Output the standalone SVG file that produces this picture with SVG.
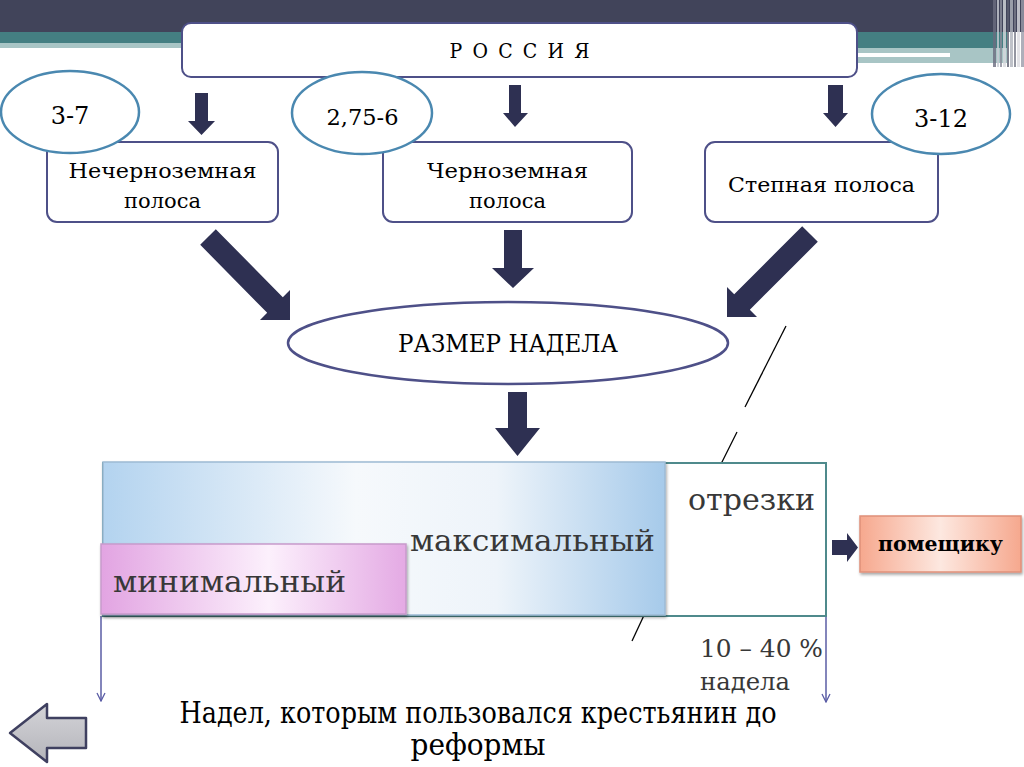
<svg xmlns="http://www.w3.org/2000/svg" width="1024" height="767" viewBox="0 0 1024 767">
<defs>
<style>
.box{fill:#fff;stroke:#4E5088;stroke-width:2}
.num{fill:#fff;stroke:#4A88B0;stroke-width:2.5}
.arr{fill:#2E3052}
.serif{font-family:"DejaVu Serif","Liberation Serif",serif}
.times{font-family:"DejaVu Serif Condensed","DejaVu Serif",serif;font-stretch:condensed}
.thin{stroke:#000;stroke-width:1.3}
.vline{stroke:#5A5CA5;stroke-width:1.5;fill:none}
.gray{fill:#383838}
</style>
<linearGradient id="gBlue" x1="0" y1="0" x2="1" y2="0">
<stop offset="0" stop-color="#B3D3EF"/>
<stop offset="0.45" stop-color="#F6F9FC"/>
<stop offset="0.7" stop-color="#EEF4FA"/>
<stop offset="1" stop-color="#A6CAEA"/>
</linearGradient>
<linearGradient id="gPink" x1="0" y1="0" x2="1" y2="0">
<stop offset="0" stop-color="#E2A4E2"/>
<stop offset="0.55" stop-color="#FCF0FC"/>
<stop offset="1" stop-color="#E4AAE4"/>
</linearGradient>
<linearGradient id="gOrange" x1="0" y1="0" x2="1" y2="0">
<stop offset="0" stop-color="#F6A88E"/>
<stop offset="0.5" stop-color="#FDE8E0"/>
<stop offset="1" stop-color="#F6A88E"/>
</linearGradient>
<linearGradient id="gGray" x1="0" y1="0" x2="0" y2="1">
<stop offset="0" stop-color="#D4D4D8"/>
<stop offset="1" stop-color="#B4B4BA"/>
</linearGradient>
<filter id="sh" x="-10%" y="-10%" width="125%" height="135%">
<feDropShadow dx="1" dy="2" stdDeviation="1.5" flood-color="#000" flood-opacity="0.35"/>
</filter>
<marker id="v" viewBox="0 0 10 10" refX="9" refY="5" markerWidth="10" markerHeight="10" markerUnits="userSpaceOnUse" orient="auto">
<path d="M1,1 L9,5 L1,9" fill="none" stroke="#5A5CA5" stroke-width="1.3"/>
</marker>
</defs>

<rect x="0" y="0" width="1024" height="767" fill="#fff"/>

<g id="header">
<rect x="0" y="0" width="1024" height="32" fill="#41445A"/>
<rect x="0" y="32" width="1007" height="11" fill="#447F82"/>
<rect x="0" y="43" width="860" height="5" fill="#A8C5C5"/>
<rect x="857" y="43" width="150" height="5" fill="#447F82"/>
<rect x="857" y="48" width="150" height="15" fill="#A8C5C5"/>
<rect x="858" y="53" width="92" height="4" fill="#fff"/>
<g opacity="0.8">
<rect x="993" y="0" width="3" height="67" fill="#6b6d80"/>
<rect x="997" y="0" width="2" height="67" fill="#c8ccd4"/>
<rect x="1000" y="0" width="2" height="67" fill="#8a8c9a"/>
<rect x="1003" y="0" width="3" height="67" fill="#d8dade"/>
<rect x="1007" y="0" width="2" height="67" fill="#5c5e70"/>
<rect x="1010" y="0" width="3" height="67" fill="#b0b4bc"/>
<rect x="1014" y="0" width="2" height="67" fill="#7a7c8a"/>
<rect x="1017" y="0" width="3" height="67" fill="#dddde2"/>
<rect x="1021" y="0" width="3" height="67" fill="#9a9caa"/>
</g>
</g>

<g id="russia">
<rect class="box" x="182" y="23" width="675" height="54" rx="9"/>
<text class="times" x="519.5" y="58" font-size="21" text-anchor="middle" textLength="140" lengthAdjust="spacing">Р О С С И Я</text>
</g>

<g id="connectors">
<polygon class="arr" points="195,93 208,93 208,121 215,121 201.5,135 188,121 195,121"/>
<polygon class="arr" points="509,85 521,85 521,113 528,113 515,127 503,113 509,113"/>
<polygon class="arr" points="828,85 843,85 843,113 848,113 835.5,127 823,113 828,113"/>
<polygon class="arr" points="215.8,229.2 282.8,297.2 290,290 290,320 260,320 267.2,312.8 200.2,244.8"/>
<polygon class="arr" points="504,230 522,230 522,268 534,268 513,288 492,268 504,268"/>
<polygon class="arr" points="802.2,226.2 734.2,294.2 727,287 727,317 757,317 749.8,309.8 817.8,241.8"/>
<polygon class="arr" points="508,392 527,392 527,428 540,428 517.5,456 495,428 508,428"/>
<polygon class="arr" points="832,540 847,540 847,533 858,547.5 847,562 847,555 832,555"/>
<line class="vline" x1="101" y1="616" x2="101" y2="701" marker-end="url(#v)"/>
<line class="vline" x1="826" y1="616" x2="826" y2="702" marker-end="url(#v)"/>
<line class="thin" x1="786" y1="326" x2="745" y2="407"/>
<line class="thin" x1="737" y1="432" x2="697" y2="512"/>
<line class="thin" x1="681" y1="536" x2="632" y2="641"/>
</g>

<g id="node-nechernozem">
<rect class="box" x="47" y="142" width="231" height="80" rx="10"/>
<text class="serif" x="162.5" y="178" font-size="21" text-anchor="middle" textLength="188" lengthAdjust="spacingAndGlyphs">Нечерноземная</text>
<text class="serif" x="162.5" y="208" font-size="21" text-anchor="middle">полоса</text>
</g>
<g id="node-chernozem">
<rect class="box" x="383" y="142" width="249" height="80" rx="10"/>
<text class="serif" x="507.5" y="178" font-size="21" text-anchor="middle" textLength="161" lengthAdjust="spacingAndGlyphs">Черноземная</text>
<text class="serif" x="507.5" y="208" font-size="21" text-anchor="middle">полоса</text>
</g>
<g id="node-step">
<rect class="box" x="705" y="142" width="233" height="80" rx="10"/>
<text class="serif" x="821.5" y="192" font-size="21" text-anchor="middle" textLength="187" lengthAdjust="spacingAndGlyphs">Степная полоса</text>
</g>

<g id="num-1">
<ellipse class="num" cx="70" cy="112" rx="69" ry="41"/>
<text class="serif" x="70" y="124" font-size="24" text-anchor="middle">3-7</text>
</g>
<g id="num-2">
<ellipse class="num" cx="362" cy="113" rx="70" ry="41"/>
<text class="serif" x="362.5" y="125" font-size="23" text-anchor="middle" textLength="72" lengthAdjust="spacingAndGlyphs">2,75-6</text>
</g>
<g id="num-3">
<ellipse class="num" cx="941" cy="114" rx="69" ry="40"/>
<text class="serif" x="941" y="127" font-size="24" text-anchor="middle">3-12</text>
</g>

<g id="node-razmer">
<ellipse cx="508" cy="343" rx="220" ry="41" fill="#fff" stroke="#4E5088" stroke-width="2.5"/>
<text class="times" x="508" y="352" font-size="25" text-anchor="middle" textLength="220" lengthAdjust="spacingAndGlyphs">РАЗМЕР НАДЕЛА</text>
</g>

<g id="node-nadel">
<rect x="103" y="463" width="723" height="153" fill="#fff" stroke="#4F8A8C" stroke-width="2"/>
<rect x="103" y="462" width="562" height="153" fill="url(#gBlue)" stroke="#9DBAD4" stroke-width="1.5" filter="url(#sh)"/>
<rect x="101" y="544" width="305" height="70" fill="url(#gPink)" stroke="#C79ACB" stroke-width="1.5" filter="url(#sh)"/>
<text class="serif gray" x="410" y="551" font-size="30" textLength="245" lengthAdjust="spacingAndGlyphs">максимальный</text>
<text class="serif gray" x="113" y="592" font-size="30" textLength="233" lengthAdjust="spacingAndGlyphs">минимальный</text>
<text class="serif gray" x="688" y="510" font-size="30" textLength="127" lengthAdjust="spacingAndGlyphs">отрезки</text>
<text class="serif gray" x="700" y="657" font-size="24" textLength="123" lengthAdjust="spacingAndGlyphs">10 – 40 %</text>
<text class="serif gray" x="700" y="690" font-size="24" textLength="90" lengthAdjust="spacingAndGlyphs">надела</text>
</g>

<g id="node-pomeshchiku">
<rect x="860" y="516" width="161" height="56" fill="url(#gOrange)" stroke="#E0907A" stroke-width="1.5" filter="url(#sh)"/>
<text class="serif" x="940.5" y="551" font-size="21" font-weight="bold" text-anchor="middle" textLength="125" lengthAdjust="spacingAndGlyphs">помещику</text>
</g>

<g id="caption">
<text class="times" x="478" y="723" font-size="29" text-anchor="middle" textLength="597" lengthAdjust="spacingAndGlyphs">Надел, которым пользовался крестьянин до</text>
<text class="times" x="478" y="755" font-size="29" text-anchor="middle" textLength="135" lengthAdjust="spacingAndGlyphs">реформы</text>
</g>

<g id="back-button">
<polygon points="10,733 47,704 47,718 86,718 86,748 47,748 47,762" fill="url(#gGray)" stroke="#3F4060" stroke-width="2.5" stroke-linejoin="round"/>
</g>
</svg>
